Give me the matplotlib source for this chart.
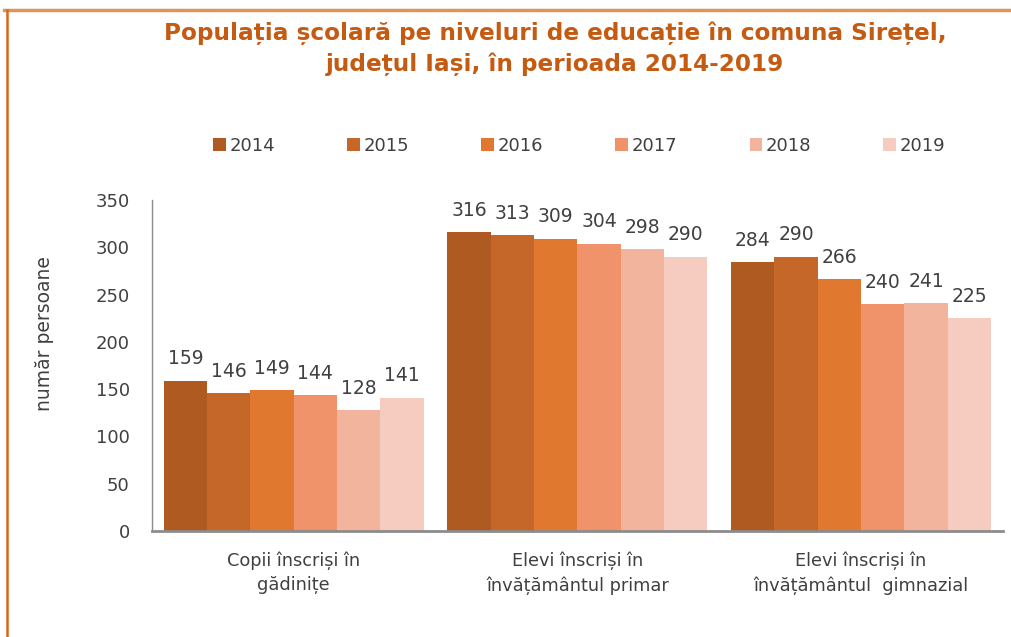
import numpy as np
import matplotlib
matplotlib.use('Agg')
import matplotlib.pyplot as plt
from matplotlib.lines import Line2D

# date
categorii = ['Copii înscriși în\ngădinițe', 'Elevi înscriși în\nînvățământul primar',
             'Elevi înscriși în\nînvățământul  gimnazial']
ani = ['2014', '2015', '2016', '2017', '2018', '2019']
v2014 = [159, 316, 284]
v2015 = [146, 313, 290]
v2016 = [149, 309, 266]
v2017 = [144, 304, 240]
v2018 = [128, 298, 241]
v2019 = [141, 290, 225]
valori = [v2014, v2015, v2016, v2017, v2018, v2019]
culori = ['#AE5A21', '#C6672A', '#E07830', '#F0936A', '#F2B49C', '#F5CCBF']

plt.rcParams['font.family'] = ['DejaVu Sans']
txt = '#404040'

fig = plt.figure(figsize=(10.11, 6.37), dpi=100, facecolor='white')
ax = fig.add_axes([0.1503, 0.1664, 0.8417, 0.5196])

x = np.arange(len(categorii))
w = 0.1527
for j, (an, val, c) in enumerate(zip(ani, valori, culori)):
    pos = x + (j - 2.5) * w
    ax.bar(pos, val, width=w, color=c, edgecolor='none', label=an)
    for p, v in zip(pos, val):
        ax.text(p, v + 13, str(v), ha='center', va='bottom', fontsize=13.5, color=txt)

ax.set_xlim(-0.5, 2.5)
ax.set_ylim(0, 350)
ax.set_yticks(np.arange(0, 351, 50))
ax.set_xticks(x)
ax.set_xticklabels(categorii, fontsize=12.8, color=txt, linespacing=1.4)
ax.tick_params(axis='both', length=0, colors=txt)
ax.tick_params(axis='y', pad=16, labelsize=13)
ax.tick_params(axis='x', pad=15)
for s in ['top', 'right']:
    ax.spines[s].set_visible(False)
ax.spines['left'].set_color('#8c8c8c')
ax.spines['left'].set_linewidth(1)
ax.spines['bottom'].set_color('#8c8c8c')
ax.spines['bottom'].set_linewidth(2)

fig.text(45 / 1011, 1 - 334 / 637, 'număr persoane', rotation=90, ha='center', va='center',
         fontsize=13.5, color=txt)

fig.legend(loc='center', bbox_to_anchor=(0.573, 0.771), ncol=6, frameon=False,
           fontsize=13, labelcolor=txt, handlelength=0.7, handleheight=0.7,
           handletextpad=0.2, columnspacing=4.0)

fig.text(0.549, 0.924, 'Populația școlară pe niveluri de educație în comuna Sirețel,\n'
         'județul Iași, în perioada 2014-2019', ha='center', va='center',
         fontsize=16.7, fontweight='bold', color='#C55A11', linespacing=1.42)

# chenar
fig.add_artist(Line2D([0.004, 1.0], [0.985, 0.985], color='#E0935A', lw=2.5, transform=fig.transFigure))
fig.add_artist(Line2D([0.0074, 0.0074], [0.0, 0.985], color='#D9661A', lw=1.8, transform=fig.transFigure))

fig.savefig('out.png', dpi=100, facecolor='white')
